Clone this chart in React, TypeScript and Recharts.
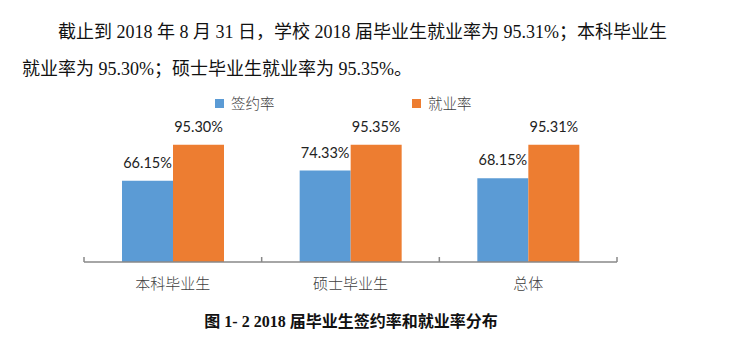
import { BarChart, Bar, XAxis, YAxis, Legend, LabelList } from 'recharts'

const categories = ['本科毕业生', '硕士毕业生', '总体']
const qianyue = [66.15, 74.33, 68.15]
const jiuye = [95.30, 95.35, 95.31]
const seriesNames = ['签约率', '就业率']
const COLORS = ['#5B9BD5', '#ED7D31']

const data = categories.map((c, i) => ({ name: c, qianyue: qianyue[i], jiuye: jiuye[i] }))

const PLOT_LEFT = 84
const PLOT_RIGHT = 617
const BAND = (PLOT_RIGHT - PLOT_LEFT) / categories.length

const serif = '"Liberation Serif", "Times New Roman", "Noto Sans CJK SC", serif'
const cjk = '"Noto Sans CJK SC", sans-serif'

// category label plus the little boundary ticks Excel draws
const CategoryTick = (props: any) => {
  const { x, y, payload, index } = props
  const axisY = y - 8
  return (
    <g>
      <line x1={x - BAND / 2} x2={x - BAND / 2} y1={axisY - 5} y2={axisY} stroke="#888" strokeWidth={1.5} />
      {index === categories.length - 1 && (
        <line x1={x + BAND / 2} x2={x + BAND / 2} y1={axisY - 5} y2={axisY} stroke="#888" strokeWidth={1.5} />
      )}
      <text x={x} y={axisY + 20} textAnchor="middle" dominantBaseline="central" fill="#404040" fontSize={15} fontFamily={cjk} fontWeight={300}>
        {payload.value}
      </text>
    </g>
  )
}

const LegendContent = (props: any) => {
  const items = [...(props.payload || [])].sort((a: any, b: any) => seriesNames.indexOf(a.value) - seriesNames.indexOf(b.value))
  return (
    <div style={{ display: 'flex', paddingLeft: 215 }}>
      {items.map((p: any) => (
        <div key={p.value} style={{ display: 'flex', alignItems: 'center', width: 197 }}>
          <span style={{ width: 9, height: 9, background: p.color, marginRight: 7 }} />
          <span style={{ fontFamily: cjk, fontSize: 14.5, color: '#404040', fontWeight: 300, lineHeight: '18px' }}>{p.value}</span>
        </div>
      ))}
    </div>
  )
}

export default function App() {
  return (
    <div style={{ position: 'absolute', left: 0, top: 0, width: 741, height: 341, background: '#fff', overflow: 'hidden' }}>
      <div style={{ position: 'absolute', left: 22, top: 14, fontFamily: serif, fontSize: 18, lineHeight: '37px', color: '#111', whiteSpace: 'nowrap' }}>
        <div style={{ textIndent: 36 }}>截止到 2018 年 8 月 31 日，学校 2018 届毕业生就业率为 95.31%；本科毕业生</div>
        <div>就业率为 95.30%；硕士毕业生就业率为 95.35%。</div>
      </div>

      <div style={{ position: 'absolute', left: 0, top: 0 }}>
        <BarChart width={741} height={341} data={data} barGap={0} barSize={51}
          margin={{ top: 139, left: PLOT_LEFT, right: 741 - PLOT_RIGHT, bottom: 49 }}>
          <YAxis hide domain={[0, 100]} />
          <XAxis dataKey="name" axisLine={{ stroke: '#888', strokeWidth: 1.5 }} tickLine={false} tick={<CategoryTick />} interval={0} />
          <Legend layout="horizontal" verticalAlign="middle" content={<LegendContent />}
            wrapperStyle={{ position: 'absolute', top: 94, left: 0, width: 741 }} />
          <Bar dataKey="qianyue" name={seriesNames[0]} fill={COLORS[0]} isAnimationActive={false}>
            <LabelList dataKey="qianyue" position="top" offset={13} formatter={(v: any) => `${Number(v).toFixed(2)}%`}
              style={{ fill: '#222', fontSize: 14.5, fontFamily: 'Lato, sans-serif' }} />
          </Bar>
          <Bar dataKey="jiuye" name={seriesNames[1]} fill={COLORS[1]} isAnimationActive={false}>
            <LabelList dataKey="jiuye" position="top" offset={13} formatter={(v: any) => `${Number(v).toFixed(2)}%`}
              style={{ fill: '#222', fontSize: 14.5, fontFamily: 'Lato, sans-serif' }} />
          </Bar>
        </BarChart>
      </div>

      <div style={{ position: 'absolute', left: 0, top: 311, width: 702, textAlign: 'center', fontFamily: serif, fontWeight: 'bold', fontSize: 16, lineHeight: '22px', color: '#111' }}>
        图 1- 2 2018 届毕业生签约率和就业率分布
      </div>
    </div>
  )
}
